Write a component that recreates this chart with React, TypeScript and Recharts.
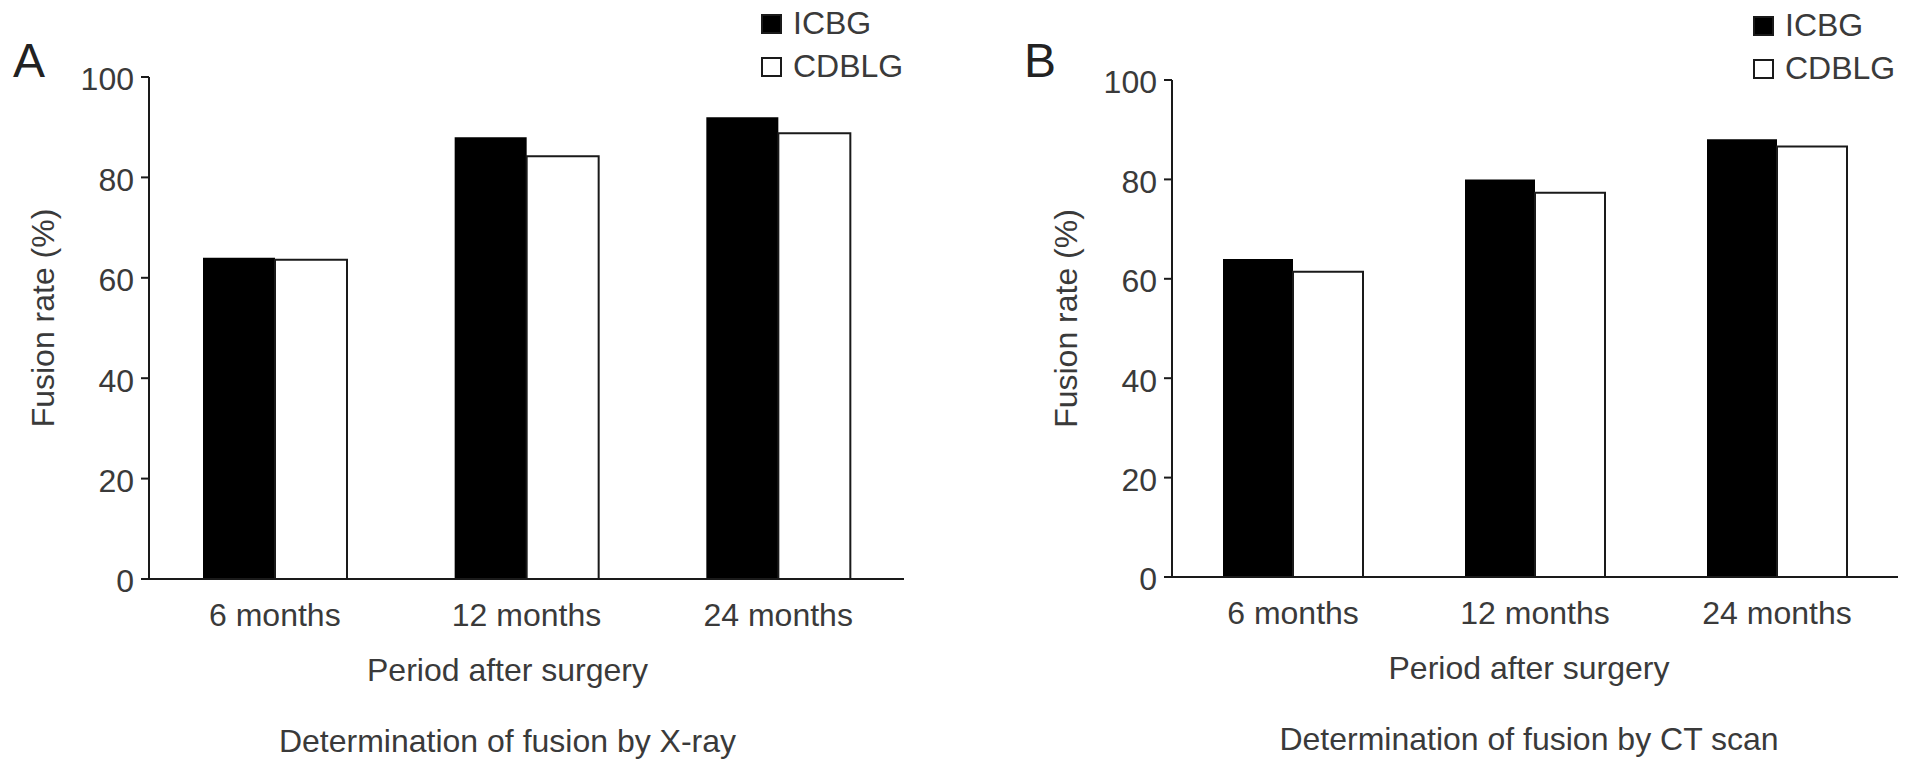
import React from 'react';
import { BarChart, Bar, XAxis, YAxis, Legend } from 'recharts';

const periods = ['6 months', '12 months', '24 months'];
const seriesNames = ['ICBG', 'CDBLG'];
const xrayIcbg = [64.0, 88.0, 92.0];
const xrayCdblg = [63.6, 84.2, 88.8];
const ctIcbg = [64.0, 80.0, 88.1];
const ctCdblg = [61.4, 77.3, 86.6];
const yTicks = [0, 20, 40, 60, 80, 100];
const bandEdges = [0, 1, 2, 3];

const FONT = '"Liberation Sans", Arial, Helvetica, sans-serif';
const TEXT = '#3a3a3a';
const INK = '#1a1a1a';

const LegendBox = ({ payload }: any) => {
  const items = [...(payload || [])].sort(
    (a: any, b: any) => seriesNames.indexOf(a.value) - seriesNames.indexOf(b.value)
  );
  return (
    <div style={{ fontFamily: FONT, fontSize: 32, color: TEXT, lineHeight: '43px' }}>
      {items.map((p: any) => (
        <div key={p.value} style={{ display: 'flex', alignItems: 'center', whiteSpace: 'nowrap' }}>
          <span
            style={{
              display: 'inline-block',
              width: 21,
              height: 20,
              boxSizing: 'border-box',
              background: p.color,
              border: `2px solid ${INK}`,
              marginRight: 11,
            }}
          />
          {p.value}
        </div>
      ))}
    </div>
  );
};

const titleLabel = (title: string, shift: number) => (props: any) => {
  const vb = props.viewBox;
  const cx = vb.x + vb.width / 2 + shift;
  return (
    <g fontFamily={FONT} fontSize={32} fill={TEXT}>
      <text x={cx} y={vb.y + 101} textAnchor="middle">Period after surgery</text>
      <text x={cx} y={vb.y + 172} textAnchor="middle">{title}</text>
    </g>
  );
};

const sideLabel = (letter: string, letterX: number) => (props: any) => {
  const vb = props.viewBox;
  const axisX = vb.x + vb.width;
  const cy = vb.y + vb.height / 2 - 10;
  return (
    <g fontFamily={FONT} fill={TEXT}>
      <text x={letterX} y={77} fontSize={48} fill="#222">{letter}</text>
      <text
        transform={`translate(${axisX - 95}, ${cy}) rotate(-90)`}
        textAnchor="middle"
        fontSize={32}
      >
        Fusion rate (%)
      </text>
    </g>
  );
};

function Panel({ left, width, yWidth, top, bottom, right, barSize, icbg, cdblg, letter, letterX, title, titleShift, legendLeft, legendTop }: any) {
  const data = periods.map((p, i) => ({ period: p, icbg: icbg[i], cdblg: cdblg[i] }));
  const catHeight = 772 - bottom - 1;
  return (
    <div style={{ position: 'absolute', left, top: 0 }}>
      <BarChart
        width={width}
        height={772}
        data={data}
        barGap={0}
        margin={{ top, right, bottom: 0, left: 0 }}
      >
        <XAxis
          xAxisId="a-edge"
          type="number"
          domain={[0, 3]}
          ticks={bandEdges}
          tick={false}
          tickSize={8}
          height={1}
          allowDataOverflow
          axisLine={{ stroke: INK, strokeWidth: 2 }}
          tickLine={{ stroke: INK, strokeWidth: 2 }}
        />
        <XAxis
          xAxisId="b-cat"
          dataKey="period"
          interval={0}
          height={catHeight}
          axisLine={false}
          tickLine={false}
          tickSize={7}
          tickMargin={16}
          tick={{ fill: TEXT, fontSize: 32, fontFamily: FONT }}
          label={titleLabel(title, titleShift)}
        />
        <YAxis
          type="number"
          domain={[0, 100]}
          ticks={yTicks}
          width={yWidth}
          tickSize={8}
          tickMargin={7}
          axisLine={{ stroke: INK, strokeWidth: 2 }}
          tickLine={{ stroke: INK, strokeWidth: 2 }}
          tick={{ fill: TEXT, fontSize: 32, fontFamily: FONT, dy: 2 }}
          label={sideLabel(letter, letterX)}
        />
        <Legend
          layout="vertical"
          align="center"
          verticalAlign="middle"
          content={<LegendBox />}
          wrapperStyle={{ left: legendLeft, top: legendTop, width: 'auto' }}
        />
        <Bar xAxisId="b-cat" dataKey="icbg" name="ICBG" fill="#000000" barSize={barSize} isAnimationActive={false} />
        <Bar
          xAxisId="b-cat"
          dataKey="cdblg"
          name="CDBLG"
          fill="#ffffff"
          stroke={INK}
          strokeWidth={2}
          barSize={barSize}
          isAnimationActive={false}
        />
      </BarChart>
    </div>
  );
}

export default function App() {
  return (
    <div style={{ position: 'absolute', left: 0, top: 0, width: 1913, height: 772, background: '#fff', overflow: 'hidden' }}>
      <Panel
        left={0}
        width={950}
        yWidth={149}
        top={77}
        bottom={579}
        right={46}
        barSize={72}
        icbg={xrayIcbg}
        cdblg={xrayCdblg}
        letter="A"
        letterX={13}
        title="Determination of fusion by X-ray"
        titleShift={-19}
        legendLeft={761}
        legendTop={2}
      />
      <Panel
        left={960}
        width={953}
        yWidth={212}
        top={80}
        bottom={577}
        right={15}
        barSize={70}
        icbg={ctIcbg}
        cdblg={ctCdblg}
        letter="B"
        letterX={64}
        title="Determination of fusion by CT scan"
        titleShift={-6}
        legendLeft={793}
        legendTop={4}
      />
    </div>
  );
}
